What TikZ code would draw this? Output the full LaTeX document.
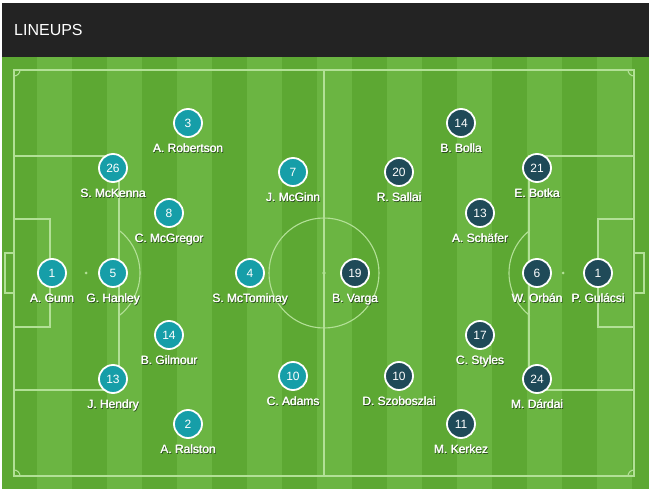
\documentclass[tikz,border=0pt]{standalone}
\usepackage{fontspec}
\setmainfont{Liberation Sans}
\usepackage{tikz}
\definecolor{turfdark}{RGB}{93,168,51}
\definecolor{turflight}{RGB}{107,181,66}
\definecolor{headbar}{RGB}{35,35,35}
\definecolor{hometeal}{RGB}{22,158,168}
\definecolor{awaynavy}{RGB}{31,74,88}
\definecolor{chalk}{RGB}{178,224,150}
\definecolor{nameshade}{RGB}{38,64,30}
\newcommand{\shadowed}[1]{\rlap{\kern1pt\raisebox{-1pt}{\color{nameshade}#1}}\rlap{\kern0.35pt{#1}}#1}
\tikzset{
    pitchline/.style={draw=chalk, line width=1.1pt},
    homeplayer/.style={circle, fill=hometeal, draw=white, line width=1.8pt,
        minimum size=28pt, inner sep=0pt, text=white, font=\fontsize{12}{12}\selectfont},
    awayplayer/.style={homeplayer, fill=awaynavy},
    playername/.style={anchor=base, inner sep=0pt, text=white, font=\fontsize{12}{12}\selectfont}
}

\begin{document}
\begin{tikzpicture}[x=1pt, y=-1pt]
        \useasboundingbox (0,0) rectangle (649,492);
        \fill[white] (0,0) rectangle (649,492);
        % header
        \fill[headbar] (2,3) rectangle (649,57);
        \node[anchor=base west, inner sep=0pt, text=white, font=\fontsize{16}{16}\selectfont] (title) at (14,36) {LINEUPS};
        % turf
        \fill[turfdark] (2,57) rectangle (649,489);
        \foreach \k in {1, 3, ..., 17}
        {
            \fill[turflight] (2 + 35 * \k, 57) rectangle (37 + 35 * \k, 489);
        }
        % markings
        \draw[pitchline] (14,70) rectangle (634,476);
        \draw[pitchline] (324,70) -- (324,476);
        \draw[pitchline] (324,273) circle[radius=55pt];
        \fill[chalk] (324,273) circle[radius=1.8pt];
        \draw[pitchline] (14,156) rectangle (119,390);
        \draw[pitchline] (14,219) rectangle (50,327);
        \draw[pitchline] (14,253) -- (5,253) -- (5,293) -- (14,293);
        \fill[chalk] (86,273) circle[radius=1.5pt];
        \draw[pitchline] ([shift={(-52:54pt)}]86,273) arc[start angle=-52, end angle=52, radius=54pt];
        \draw[pitchline] (529,156) rectangle (634,390);
        \draw[pitchline] (598,219) rectangle (634,327);
        \draw[pitchline] (634,253) -- (644,253) -- (644,293) -- (634,293);
        \fill[chalk] (563,273) circle[radius=1.5pt];
        \draw[pitchline] ([shift={(128:54pt)}]563,273) arc[start angle=128, end angle=232, radius=54pt];
        \draw[pitchline] (20,70) arc[start angle=0, end angle=-90, radius=6pt];
        \draw[pitchline] (628,70) arc[start angle=180, end angle=270, radius=6pt];
        \draw[pitchline] (14,470) arc[start angle=90, end angle=0, radius=6pt];
        \draw[pitchline] (628,476) arc[start angle=180, end angle=90, radius=6pt];
        % home side
        \foreach \px/\py/\num/\who [count=\i] in {52/273/1/A. Gunn, 113/273/5/G. Hanley,
            113/168/26/S. McKenna, 113/379/13/J. Hendry, 188/123/3/A. Robertson,
            169/213/8/C. McGregor, 169/335/14/B. Gilmour, 188/424/2/A. Ralston,
            293/172/7/J. McGinn, 250/273/4/S. McTominay, 293/376/10/C. Adams}
        {
            \node[homeplayer] (home\i) at (\px, \py) {\num};
            \node[playername] (homename\i) at (\px, \py + 29.5) {\shadowed{\who}};
        }
        % away side
        \foreach \px/\py/\num/\who [count=\i] in {598/273/1/P. Gulácsi, 537/273/6/W. Orbán,
            537/168/21/E. Botka, 537/379/24/M. Dárdai, 461/123/14/B. Bolla,
            480/213/13/A. Schäfer, 480/335/17/C. Styles, 461/424/11/M. Kerkez,
            399/172/20/R. Sallai, 355/273/19/B. Varga, 399/376/10/D. Szoboszlai}
        {
            \node[awayplayer] (away\i) at (\px, \py) {\num};
            \node[playername] (awayname\i) at (\px, \py + 29.5) {\shadowed{\who}};
        }
    \end{tikzpicture}
\end{document}
